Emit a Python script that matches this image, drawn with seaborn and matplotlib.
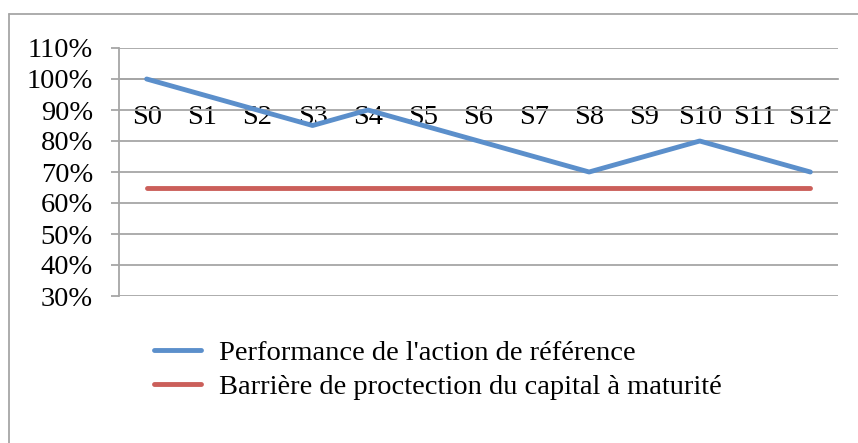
import matplotlib
matplotlib.use("Agg")
import matplotlib.pyplot as plt
import seaborn as sns
import pandas as pd
from matplotlib.lines import Line2D
from matplotlib.ticker import FixedLocator, PercentFormatter

categories = ["S0", "S1", "S2", "S3", "S4", "S5", "S6", "S7", "S8", "S9", "S10", "S11", "S12"]
performance = [1.00, 0.95, 0.90, 0.85, 0.90, 0.85, 0.80, 0.75, 0.70, 0.75, 0.80, 0.75, 0.70]
barriere = [0.65] * 13
series_names = ["Performance de l'action de référence",
                "Barrière de proctection du capital à maturité"]
yticks = [0.3, 0.4, 0.5, 0.6, 0.7, 0.8, 0.9, 1.0, 1.1]

sns.set_style("white")
plt.rcParams['font.family'] = ['Liberation Serif', 'DejaVu Serif']
plt.rcParams['text.color'] = 'black'

FS = 20.5
W, H = 858, 443
fig = plt.figure(figsize=(W / 100, H / 100), dpi=100)
ax = fig.add_axes([119 / W, 1 - 296 / H, (838 - 119) / W, (296 - 48) / H])

df = pd.DataFrame({
    "x": list(range(len(categories))) * 2,
    "y": performance + barriere,
    "serie": [series_names[0]] * len(categories) + [series_names[1]] * len(categories),
})
palette = {series_names[0]: "#5B8FCB", series_names[1]: "#CB5F5A"}
sns.lineplot(data=df, x="x", y="y", hue="serie", palette=palette, ax=ax,
             linewidth=3.5, legend=False, solid_capstyle="round", zorder=3)

grid_c = "#A6A6A6"
ax.set_xlim(-0.5, len(categories) - 0.5)
ax.set_ylim(0.3, 1.1)
ax.set_yticks(yticks)
ax.yaxis.set_major_formatter(PercentFormatter(1.0, decimals=0))
ax.grid(axis="y", color=grid_c, linewidth=1.3)
ax.grid(axis="x", visible=False)
ax.set_xlabel("")
ax.set_ylabel("")

for s in ["top", "right"]:
    ax.spines[s].set_visible(False)
ax.spines["left"].set_color(grid_c)
ax.spines["left"].set_linewidth(1.3)
ax.spines["bottom"].set_color(grid_c)
ax.spines["bottom"].set_linewidth(1.3)
ax.spines["bottom"].set_position(("data", 1.0))

ax.set_xticks(range(len(categories)))
ax.set_xticklabels(categories)
ax.xaxis.set_minor_locator(FixedLocator([i - 0.5 for i in range(len(categories) + 1)]))
ax.tick_params(axis="x", which="major", length=0, pad=19, labelsize=FS, colors="black")
ax.tick_params(axis="x", which="minor", direction="in", length=6, width=1.3, color=grid_c)
ax.tick_params(axis="y", which="major", direction="out", length=5.8, width=1.3,
               color=grid_c, labelsize=FS, labelcolor="black", pad=13)
ax.tick_params(axis="y", labelleft=True, left=True)
ax.set_axisbelow(True)

handles = [Line2D([], [], color=palette[n], linewidth=3.5, solid_capstyle="round") for n in series_names]
fig.legend(handles, series_names, loc="upper left", bbox_to_anchor=(154 / W, 1 - 340 / H),
           frameon=False, fontsize=FS, handlelength=1.65, handletextpad=0.63,
           labelspacing=0.27, borderpad=0, borderaxespad=0, labelcolor="black")

frame_c = "#A6A6A6"
fig.add_artist(Line2D([8.5 / W, 8.5 / W], [0, 1 - 13.5 / H], color=frame_c, linewidth=1.3,
                      transform=fig.transFigure))
fig.add_artist(Line2D([8.5 / W, 1], [1 - 13.5 / H, 1 - 13.5 / H], color=frame_c, linewidth=1.3,
                      transform=fig.transFigure))

fig.savefig("out.png", dpi=100)
